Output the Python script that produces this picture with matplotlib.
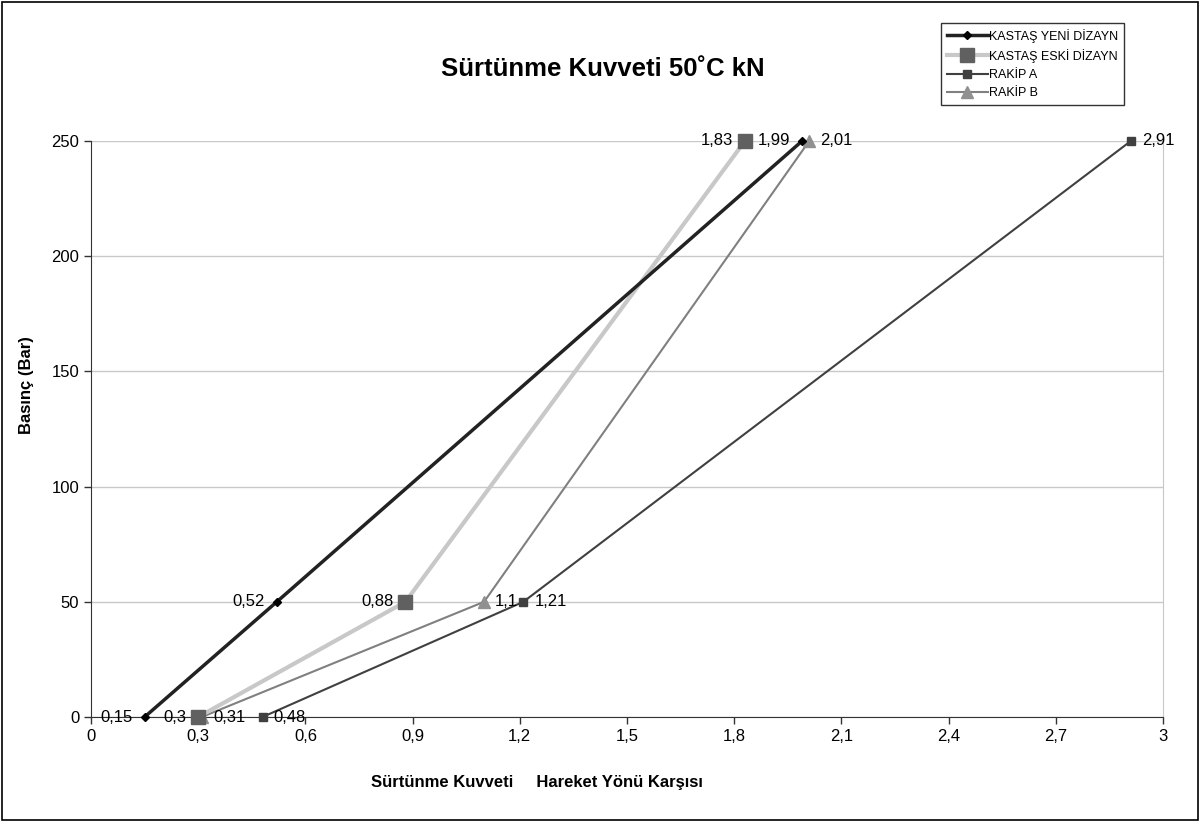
import matplotlib
matplotlib.use("Agg")
import matplotlib.pyplot as plt
from matplotlib.patches import Rectangle

plt.rcParams['font.family'] = ['Liberation Sans', 'DejaVu Sans']

pressure = [0, 50, 250]
yeni = [0.15, 0.52, 1.99]
eski = [0.30, 0.88, 1.83]
rakip_a = [0.48, 1.21, 2.91]
rakip_b = [0.31, 1.10, 2.01]

series_names = ["KASTAŞ YENİ DİZAYN", "KASTAŞ ESKİ DİZAYN", "RAKİP A", "RAKİP B"]
x_ticks = [0, 0.3, 0.6, 0.9, 1.2, 1.5, 1.8, 2.1, 2.4, 2.7, 3.0]
x_tick_labels = ["0", "0,3", "0,6", "0,9", "1,2", "1,5", "1,8", "2,1", "2,4", "2,7", "3"]
y_ticks = [0, 50, 100, 150, 200, 250]

title = "Sürtünme Kuvveti 50˚C kN"
xlabel = "Sürtünme Kuvveti     Hareket Yönü Karşısı"
ylabel = "Basınç (Bar)"

fig = plt.figure(figsize=(12, 8.22), dpi=100)
ax = fig.add_axes([91/1200, 1-717/822, (1163-91)/1200, (717-141)/822])

ax.plot(yeni, pressure, color='#222222', lw=2.5, marker='D', ms=4.5,
        mfc='black', mec='black', label=series_names[0], zorder=5, clip_on=False)
ax.plot(eski, pressure, color='#c8c8c8', lw=3, marker='s', ms=10,
        mfc='#606060', mec='#606060', label=series_names[1], zorder=4, clip_on=False)
ax.plot(rakip_a, pressure, color='#404040', lw=1.5, marker='s', ms=6,
        mfc='#404040', mec='#404040', label=series_names[2], zorder=3, clip_on=False)
ax.plot(rakip_b, pressure, color='#808080', lw=1.5, marker='^', ms=8,
        mfc='#909090', mec='#909090', label=series_names[3], zorder=3, clip_on=False)

lab_fs = 12
def lab(xs, ys, sides):
    for xv, yv, s in zip(xs, ys, sides):
        txt = f"{xv:g}".replace('.', ',')
        off = -8.5 if s == 'l' else 8
        ax.annotate(txt, (xv, yv), xytext=(off, 0), textcoords='offset points',
                    ha='right' if s == 'l' else 'left', va='center',
                    fontsize=lab_fs, zorder=6, annotation_clip=False)

lab(yeni, pressure, ['l', 'l', 'l'])
lab(eski, pressure, ['l', 'l', 'l'])
lab(rakip_a, pressure, ['r', 'r', 'r'])
lab(rakip_b, pressure, ['r', 'r', 'r'])

ax.set_xlim(0, 3)
ax.set_ylim(0, 250)
ax.set_xticks(x_ticks)
ax.set_xticklabels(x_tick_labels)
ax.set_yticks(y_ticks)
ax.tick_params(labelsize=12, direction='out', length=5, color='#333333', width=1)
ax.grid(axis='y', color='#c8c8c8', lw=1)
ax.set_axisbelow(True)
ax.spines['top'].set_visible(False)
ax.spines['right'].set_color('#c8c8c8')
ax.spines['left'].set_color('#333333')
ax.spines['bottom'].set_color('#333333')

fig.text(603/1200, 1-69/822, title, ha='center', va='center', fontsize=18.5, fontweight='bold')
fig.text(537/1200, 1-782/822, xlabel, ha='center', va='center', fontsize=12, fontweight='bold')
fig.text(27/1200, 1-385/822, ylabel, ha='center', va='center', fontsize=12,
         fontweight='bold', rotation=90)

leg = ax.legend(loc='upper left', bbox_to_anchor=(941/1200, 1-23/822),
                bbox_transform=fig.transFigure, fontsize=9, frameon=True,
                fancybox=False, edgecolor='black', handlelength=3.3,
                handletextpad=0.1, borderpad=0.45, labelspacing=0.5, borderaxespad=0)
leg.get_frame().set_linewidth(1)

fig.patches.append(Rectangle((2/1200, 2/822), 1-4/1200, 1-4/822, transform=fig.transFigure,
                             fill=False, edgecolor='black', lw=1.2))

fig.savefig("out.png", dpi=100)
